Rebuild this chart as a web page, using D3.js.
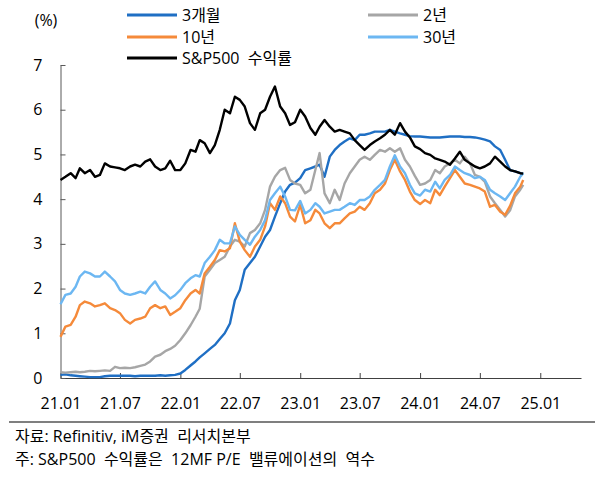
<!DOCTYPE html>
<html>
<head>
<meta charset="utf-8">
<script src="https://cdn.jsdelivr.net/npm/d3@7"></script>
<style>
    body { margin: 0; background: #fff; }
    text { font-family: "Open Sans", "Noto Sans CJK KR", sans-serif; fill: #000; white-space: pre; }
</style>
</head>
<body>
<div id="chart"></div>
<script>
// semi-monthly observations, 2021.01 ~ 2024.11
const dates = [
    "2021-01-01","2021-01-16","2021-02-01","2021-02-16","2021-03-01","2021-03-16","2021-04-01","2021-04-16",
    "2021-05-01","2021-05-16","2021-06-01","2021-06-16","2021-07-01","2021-07-16","2021-08-01","2021-08-16",
    "2021-09-01","2021-09-16","2021-10-01","2021-10-16","2021-11-01","2021-11-16","2021-12-01","2021-12-16",
    "2022-01-01","2022-01-16","2022-02-01","2022-02-16","2022-03-01","2022-03-16","2022-04-01","2022-04-16",
    "2022-05-01","2022-05-16","2022-06-01","2022-06-16","2022-07-01","2022-07-16","2022-08-01","2022-08-16",
    "2022-09-01","2022-09-16","2022-10-01","2022-10-16","2022-11-01","2022-11-16","2022-12-01","2022-12-16",
    "2023-01-01","2023-01-16","2023-02-01","2023-02-16","2023-03-01","2023-03-16","2023-04-01","2023-04-16",
    "2023-05-01","2023-05-16","2023-06-01","2023-06-16","2023-07-01","2023-07-16","2023-08-01","2023-08-16",
    "2023-09-01","2023-09-16","2023-10-01","2023-10-16","2023-11-01","2023-11-16","2023-12-01","2023-12-16",
    "2024-01-01","2024-01-16","2024-02-01","2024-02-16","2024-03-01","2024-03-16","2024-04-01","2024-04-16",
    "2024-05-01","2024-05-16","2024-06-01","2024-06-16","2024-07-01","2024-07-16","2024-08-01","2024-08-16",
    "2024-09-01","2024-09-16","2024-10-01","2024-10-16","2024-11-01","2024-11-10"
];

const bill3m = [
    0.07,0.08,0.06,0.05,0.04,0.03,0.02,0.02,0.02,0.04,0.05,0.05,0.05,0.05,0.05,0.04,0.05,0.05,0.05,0.05,0.06,0.05,0.06,0.07,
    0.10,0.18,0.28,0.37,0.46,0.55,0.65,0.74,0.87,1.00,1.22,1.74,1.97,2.42,2.57,2.71,2.94,3.16,3.31,3.61,3.91,4.17,4.32,4.37,
    4.47,4.65,4.69,4.73,4.77,4.50,4.95,5.10,5.21,5.29,5.36,5.32,5.44,5.44,5.47,5.51,5.51,5.51,5.55,5.51,5.47,5.44,5.41,5.40,
    5.40,5.39,5.38,5.38,5.38,5.39,5.40,5.40,5.40,5.39,5.39,5.38,5.36,5.33,5.29,5.18,5.10,4.88,4.65,4.62,4.58,4.57
];

const note2y = [
    0.13,0.12,0.13,0.14,0.13,0.14,0.16,0.15,0.16,0.17,0.16,0.25,0.22,0.23,0.22,0.24,0.27,0.30,0.37,0.48,0.52,0.60,0.65,0.72,
    0.85,1.00,1.18,1.37,1.55,2.27,2.42,2.57,2.64,2.71,2.94,3.09,3.05,2.94,3.24,3.31,3.46,3.76,4.28,4.50,4.65,4.70,4.43,4.35,
    4.32,4.13,4.21,4.65,5.03,4.13,3.91,4.21,3.98,4.35,4.58,4.73,4.88,4.95,4.88,4.99,5.10,5.06,5.14,5.06,5.14,4.88,4.73,4.52,
    4.32,4.35,4.43,4.65,4.58,4.73,4.80,4.88,4.80,4.95,4.80,4.54,4.50,4.39,4.06,3.91,3.76,3.61,3.75,4.06,4.21,4.32
];

const bond10y = [
    0.92,1.15,1.19,1.37,1.63,1.71,1.67,1.60,1.63,1.67,1.56,1.52,1.45,1.30,1.22,1.30,1.33,1.37,1.56,1.63,1.56,1.60,1.41,1.48,
    1.56,1.74,1.89,1.97,1.89,2.34,2.49,2.64,2.86,2.83,2.90,3.46,3.05,2.86,2.71,2.94,3.09,3.39,3.91,3.76,4.06,3.91,3.61,3.50,
    3.87,3.46,3.53,3.76,3.68,3.46,3.35,3.46,3.46,3.57,3.68,3.72,3.83,3.76,3.91,4.13,4.21,4.35,4.65,4.88,4.62,4.43,4.17,3.98,
    3.89,3.98,3.91,4.21,4.09,4.28,4.47,4.65,4.50,4.35,4.32,4.28,4.24,4.17,3.83,3.87,3.72,3.65,3.85,4.13,4.28,4.43
];

const bond30y = [
    1.65,1.86,1.89,2.04,2.27,2.38,2.34,2.27,2.27,2.38,2.27,2.16,1.97,1.89,1.86,1.89,1.93,1.89,2.04,2.16,1.97,1.89,1.78,1.85,
    1.97,2.12,2.23,2.30,2.27,2.57,2.71,2.86,3.09,3.01,3.01,3.39,3.20,3.09,2.98,3.16,3.31,3.53,3.98,4.13,4.28,4.06,3.76,3.75,
    3.96,3.68,3.76,3.91,3.83,3.68,3.72,3.76,3.76,3.83,3.91,3.87,3.98,3.98,4.06,4.21,4.32,4.43,4.73,4.98,4.73,4.58,4.32,4.13,
    4.08,4.21,4.17,4.39,4.24,4.43,4.54,4.73,4.65,4.58,4.54,4.47,4.50,4.43,4.21,4.13,4.06,3.98,4.13,4.28,4.50,4.58
];

const spxYield = [
    4.43,4.50,4.58,4.47,4.69,4.58,4.65,4.50,4.54,4.80,4.73,4.71,4.69,4.65,4.73,4.77,4.73,4.84,4.89,4.73,4.65,4.69,4.86,4.65,
    4.65,4.80,5.10,5.06,5.32,5.25,5.03,5.21,5.55,6.00,5.92,6.29,6.22,6.07,5.70,5.55,5.92,6.00,6.29,6.52,6.07,5.92,5.66,5.72,
    6.00,5.85,5.59,5.44,5.62,5.77,5.62,5.51,5.55,5.51,5.47,5.32,5.21,5.10,5.21,5.29,5.36,5.44,5.55,5.44,5.70,5.51,5.38,5.18,
    5.12,5.03,4.99,4.91,4.88,4.84,4.77,4.91,5.06,4.88,4.80,4.73,4.69,4.73,4.80,4.95,4.84,4.73,4.65,4.62,4.58,4.57
];

const seriesNames = ["3개월", "2년", "10년", "30년", "S&P500  수익률"];
const seriesValues = [bill3m, note2y, bond10y, bond30y, spxYield];
const seriesColors = ["#1f6fc4", "#a6a6a6", "#f58a3a", "#6cb7f2", "#000000"];

const yTicks = [0, 1, 2, 3, 4, 5, 6, 7];
const sourceText = "자료: Refinitiv, iM증권  리서치본부";
const noteText = "주: S&P500  수익률은  12MF P/E  밸류에이션의  역수";

class YieldChart {
    constructor(parentElement) {
        this.parentElement = parentElement;
        this.initVis();
    }

    initVis() {
        let vis = this;

        vis.width = 595;
        vis.height = 479;
        vis.plot = { left: 60.5, right: 581, top: 65, bottom: 378 };
        vis.fontSize = "16px";

        vis.svg = d3.select("#" + vis.parentElement)
            .append("svg")
            .attr("width", vis.width)
            .attr("height", vis.height);

        const parse = d3.timeParse("%Y-%m-%d");
        vis.dates = dates.map(parse);

        vis.x = d3.scaleTime()
            .domain([parse("2021-01-01"), parse("2025-05-05")])
            .range([vis.plot.left, vis.plot.right]);

        vis.y = d3.scaleLinear()
            .domain([0, 7])
            .range([vis.plot.bottom, vis.plot.top]);

        vis.line = d3.line()
            .x((d, i) => vis.x(vis.dates[i]))
            .y(d => vis.y(d));

        vis.drawAxes();
        vis.drawLines();
        vis.drawLegend();
        vis.drawFooter();
    }

    drawAxes() {
        let vis = this;

        const xAxis = d3.axisBottom(vis.x)
            .ticks(d3.timeMonth.every(6))
            .tickFormat(d3.timeFormat("%y.%m"))
            .tickSize(-5)
            .tickSizeOuter(0)
            .tickPadding(20);

        const gx = vis.svg.append("g")
            .attr("class", "x-axis")
            .attr("transform", `translate(0, ${vis.plot.bottom})`)
            .call(xAxis);
        gx.selectAll("text").style("font-size", vis.fontSize).style("font-family", null);
        gx.selectAll("line, path").attr("stroke", "#404040");

        const yAxis = d3.axisLeft(vis.y)
            .tickValues(yTicks)
            .tickFormat(d3.format("d"))
            .tickSize(-5)
            .tickSizeOuter(0)
            .tickPadding(18);

        const gy = vis.svg.append("g")
            .attr("class", "y-axis")
            .attr("transform", `translate(${vis.plot.left}, 0)`)
            .call(yAxis);
        gy.selectAll("text").style("font-size", vis.fontSize);
        gy.selectAll("line, path").attr("stroke", "#595959");

        // d3 axes set font-family on the group; let the page style win
        gx.attr("font-family", null);
        gy.attr("font-family", null);

        vis.svg.append("text")
            .attr("x", 46)
            .attr("y", 20)
            .attr("text-anchor", "middle")
            .attr("dominant-baseline", "central")
            .style("font-size", vis.fontSize)
            .text("(%)");
    }

    drawLines() {
        let vis = this;

        vis.svg.append("g")
            .attr("class", "lines")
            .selectAll("path")
            .data(seriesValues)
            .enter()
            .append("path")
            .attr("d", d => vis.line(d))
            .attr("fill", "none")
            .attr("stroke", (d, i) => seriesColors[i])
            .attr("stroke-width", 2.4)
            .attr("stroke-linejoin", "round");
    }

    drawLegend() {
        let vis = this;

        // 2 columns, filled row by row
        const colX = [127, 368];
        const rowY = [15, 37, 58];

        const items = vis.svg.append("g")
            .attr("class", "legend")
            .selectAll("g")
            .data(seriesNames)
            .enter()
            .append("g")
            .attr("transform", (d, i) => `translate(${colX[i % 2]}, ${rowY[Math.floor(i / 2)]})`);

        items.append("line")
            .attr("x1", 0)
            .attr("x2", 50)
            .attr("stroke", (d, i) => seriesColors[i])
            .attr("stroke-width", 3);

        items.append("text")
            .attr("x", 55)
            .attr("dominant-baseline", "central")
            .style("font-size", vis.fontSize)
            .text(d => d);
    }

    drawFooter() {
        let vis = this;

        vis.svg.append("line")
            .attr("x1", 9)
            .attr("x2", vis.width)
            .attr("y1", 422)
            .attr("y2", 422)
            .attr("stroke", "#000")
            .attr("stroke-width", 1.2);

        vis.svg.append("text")
            .attr("x", 15)
            .attr("y", 436)
            .attr("dominant-baseline", "central")
            .style("font-size", vis.fontSize)
            .text(sourceText);

        vis.svg.append("text")
            .attr("x", 15)
            .attr("y", 459)
            .attr("dominant-baseline", "central")
            .style("font-size", vis.fontSize)
            .text(noteText);
    }
}

new YieldChart("chart");
</script>
</body>
</html>
